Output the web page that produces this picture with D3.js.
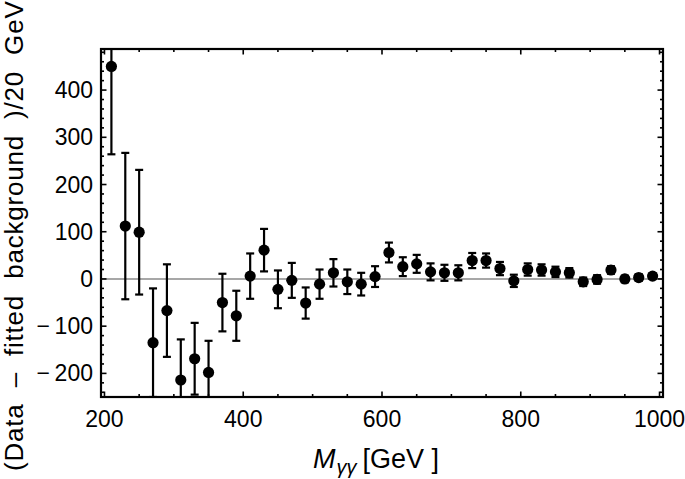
<!DOCTYPE html>
<html><head><meta charset="utf-8">
<script src="https://cdn.jsdelivr.net/npm/d3@7"></script>
<style>body{margin:0;background:#fff}svg{display:block}text{font-family:"Liberation Sans",Arial,sans-serif;fill:#000}</style>
</head><body>
<script>
const mass = [210,230,250,270,290,310,330,350,370,390,410,430,450,470,490,510,530,550,570,590,610,630,650,670,690,710,730,750,770,790,810,830,850,870,890,910,930,950,970,990];
const residual = [450,112,99,-135,-67,-214,-169,-198,-50,-78,6,61,-22,-3,-51,-11,13,-6,-11,5,56,26,32,15,13,13,39,39,22,-4,20,19,15,13,-6,-1,19,0,3,6];
const errors = [186,155,132,115,98,86,76,67,61,53,48,45,40,37,33,31,29,26,24,22,21,20,19,18,17,16,16,15,14,13,13,12,11,10,9,9,8,7,7,6];
const xTickLabels = [200,400,600,800,1000];
const yTickLabels = [-200,-100,0,100,200,300,400];

const W = 685, H = 479;
const L = 101, R = 663, T = 49, B = 397;
const svg = d3.select("body").append("svg").attr("width", W).attr("height", H);
const x = d3.scaleLinear().domain([195, 1005]).range([L, R]);
const y = d3.scaleLinear().domain([-250, 487]).range([B, T]);

svg.append("defs").append("clipPath").attr("id","clip")
  .append("rect").attr("x",L).attr("y",T).attr("width",R-L).attr("height",B-T);

// zero line
svg.append("line").attr("x1",L).attr("x2",R).attr("y1",y(0)).attr("y2",y(0))
  .attr("stroke","#8a8a8a").attr("stroke-width",1.6);

const g = svg.append("g").attr("clip-path","url(#clip)");
const data = mass.map((m,i)=>({m, v:residual[i], e:errors[i]}));
g.selectAll("line.eb").data(data).join("line").attr("class","eb")
  .attr("x1",d=>x(d.m)).attr("x2",d=>x(d.m))
  .attr("y1",d=>y(d.v+d.e)).attr("y2",d=>y(d.v-d.e))
  .attr("stroke","#000").attr("stroke-width",2.2);
g.selectAll("line.cu").data(data).join("line").attr("class","cu")
  .attr("x1",d=>x(d.m)-4).attr("x2",d=>x(d.m)+4)
  .attr("y1",d=>y(d.v+d.e)).attr("y2",d=>y(d.v+d.e))
  .attr("stroke","#000").attr("stroke-width",2.2);
g.selectAll("line.cl").data(data).join("line").attr("class","cl")
  .attr("x1",d=>x(d.m)-4).attr("x2",d=>x(d.m)+4)
  .attr("y1",d=>y(d.v-d.e)).attr("y2",d=>y(d.v-d.e))
  .attr("stroke","#000").attr("stroke-width",2.2);
g.selectAll("circle").data(data).join("circle")
  .attr("cx",d=>x(d.m)).attr("cy",d=>y(d.v)).attr("r",5.6).attr("fill","#000");

// ticks (inside) on all sides
const xMajor = xTickLabels, xMinor = d3.range(200,1001,50).filter(v=>v%200!==0);
const yMajor = yTickLabels, yMinor = d3.range(-240,481,20).filter(v=>v%100!==0);
const tk = svg.append("g").attr("stroke","#000").attr("stroke-width",1.6);
function xt(vals, len){
  vals.forEach(v=>{
    tk.append("line").attr("x1",x(v)).attr("x2",x(v)).attr("y1",B).attr("y2",B-len);
    tk.append("line").attr("x1",x(v)).attr("x2",x(v)).attr("y1",T).attr("y2",T+len);
  });
}
function yt(vals, len){
  vals.forEach(v=>{
    tk.append("line").attr("y1",y(v)).attr("y2",y(v)).attr("x1",L).attr("x2",L+len);
    tk.append("line").attr("y1",y(v)).attr("y2",y(v)).attr("x1",R).attr("x2",R-len);
  });
}
xt(xMajor,5.5); xt(xMinor,3); yt(yMajor,5.5); yt(yMinor,3);

// frame
svg.append("rect").attr("x",L).attr("y",T).attr("width",R-L).attr("height",B-T)
  .attr("fill","none").attr("stroke","#000").attr("stroke-width",2.2);

// tick labels
const fmt = v => v<0 ? "\u2212\u2009"+Math.abs(v) : String(v);
svg.append("g").selectAll("text").data(xTickLabels).join("text")
  .attr("x",d=>x(d)).attr("y",427).attr("text-anchor","middle")
  .attr("font-size",23).text(d=>d);
svg.append("g").selectAll("text").data(yTickLabels).join("text")
  .attr("x",93).attr("y",d=>y(d)+8).attr("text-anchor","end")
  .attr("font-size",23).text(fmt);

// x label
const xl = svg.append("text").attr("x",313).attr("y",468).attr("font-size",27);
xl.append("tspan").attr("font-style","italic").text("M");
xl.append("tspan").attr("font-style","italic").attr("font-size",20).attr("dy",6).attr("dx",1).text("γγ");
xl.append("tspan").attr("dy",-6).attr("dx",6).text("[GeV ]");

// y label
svg.append("text").attr("transform","translate(23,471) rotate(-90)")
  .attr("font-size",26).attr("letter-spacing",0.8).attr("text-anchor","start").style("white-space","pre")
  .text("(Data  \u2013  fitted  background  )/20  GeV");
</script>
</body></html>
